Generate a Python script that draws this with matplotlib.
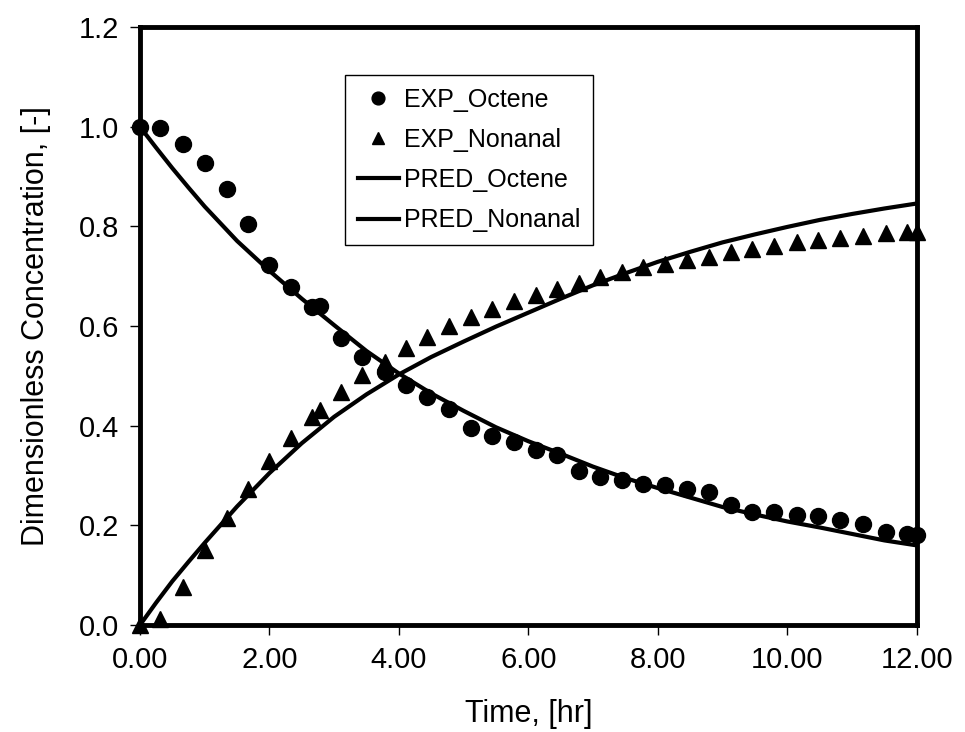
import matplotlib
matplotlib.use("Agg")
import matplotlib.pyplot as plt
from matplotlib.ticker import FormatStrFormatter

plt.rcParams['font.family'] = ['Liberation Sans', 'DejaVu Sans']

# measured data (time in hr, dimensionless concentration)
t_exp = [0.0, 0.31, 0.66, 1.0, 1.34, 1.67, 1.99, 2.33, 2.66, 2.78, 3.10, 3.43, 3.78,
         4.11, 4.43, 4.77, 5.11, 5.44, 5.78, 6.12, 6.44, 6.78, 7.10, 7.44, 7.77,
         8.11, 8.45, 8.79, 9.13, 9.45, 9.79, 10.15, 10.47, 10.81, 11.17, 11.52, 11.85, 12.0]
exp_octene = [1.0, 0.998, 0.965, 0.928, 0.875, 0.805, 0.723, 0.679, 0.638, 0.640, 0.577, 0.539, 0.508,
              0.481, 0.458, 0.434, 0.396, 0.379, 0.367, 0.352, 0.341, 0.309, 0.297, 0.291, 0.284,
              0.282, 0.273, 0.267, 0.242, 0.226, 0.226, 0.220, 0.218, 0.210, 0.202, 0.186, 0.182, 0.180]
exp_nonanal = [0.0, 0.012, 0.077, 0.150, 0.214, 0.274, 0.329, 0.376, 0.417, 0.432, 0.468, 0.501, 0.528,
               0.557, 0.578, 0.601, 0.619, 0.635, 0.651, 0.663, 0.675, 0.687, 0.699, 0.709, 0.719,
               0.724, 0.733, 0.739, 0.749, 0.755, 0.761, 0.768, 0.772, 0.776, 0.780, 0.786, 0.788, 0.788]

# model prediction
t_pred = [0.0, 0.25, 0.5, 0.75, 1.0, 1.5, 2.0, 2.5, 3.0, 3.5, 4.0, 4.5, 5.0, 5.5, 6.0, 6.5, 7.0, 7.5,
          8.0, 8.5, 9.0, 9.5, 10.0, 10.5, 11.0, 11.5, 12.0]
pred_octene = [1.0, 0.958, 0.917, 0.878, 0.840, 0.771, 0.711, 0.655, 0.602, 0.550, 0.505, 0.465, 0.430, 0.397,
               0.369, 0.344, 0.318, 0.295, 0.275, 0.256, 0.237, 0.222, 0.208, 0.196, 0.183, 0.170, 0.160]
pred_nonanal = [0.0, 0.045, 0.088, 0.127, 0.165, 0.238, 0.305, 0.365, 0.418, 0.463, 0.503, 0.538, 0.569, 0.599,
                0.627, 0.655, 0.682, 0.706, 0.729, 0.749, 0.768, 0.784, 0.799, 0.813, 0.825, 0.836, 0.846]

fig = plt.figure(figsize=(9.65, 7.32), dpi=100)
ax = fig.add_axes([0.145, 0.146, 0.805, 0.817])

ax.plot(t_exp, exp_octene, 'o', color='black', markersize=11.5, label='EXP_Octene', clip_on=False, zorder=4)
ax.plot(t_exp, exp_nonanal, '^', color='black', markersize=11, label='EXP_Nonanal', clip_on=False, zorder=4)
ax.plot(t_pred, pred_octene, '-', color='black', linewidth=3, label='PRED_Octene', zorder=3)
ax.plot(t_pred, pred_nonanal, '-', color='black', linewidth=3, label='PRED_Nonanal', zorder=3)

ax.set_xlim(0, 12)
ax.set_ylim(0, 1.2)
ax.set_xticks([0, 2, 4, 6, 8, 10, 12])
ax.set_yticks([0.0, 0.2, 0.4, 0.6, 0.8, 1.0, 1.2])
ax.xaxis.set_major_formatter(FormatStrFormatter('%.2f'))
ax.yaxis.set_major_formatter(FormatStrFormatter('%.1f'))
ax.tick_params(direction='out', length=7, width=1, labelsize=21, pad=8)

for s in ax.spines.values():
    s.set_linewidth(3.5)

ax.set_xlabel('Time, [hr]', fontsize=22, labelpad=18)
ax.set_ylabel('Dimensionless Concentration, [-]', fontsize=22, labelpad=20)

leg = ax.legend(loc='upper left', bbox_to_anchor=(345 / 965, 1 - 75 / 732),
                bbox_transform=fig.transFigure, fontsize=18, frameon=True, fancybox=False,
                edgecolor='black', framealpha=1, handlelength=1.65, handletextpad=0.2,
                labelspacing=0.65, borderpad=0.5, markerscale=0.8, borderaxespad=0)
leg.get_frame().set_linewidth(1)

fig.savefig('out.png', dpi=100)
